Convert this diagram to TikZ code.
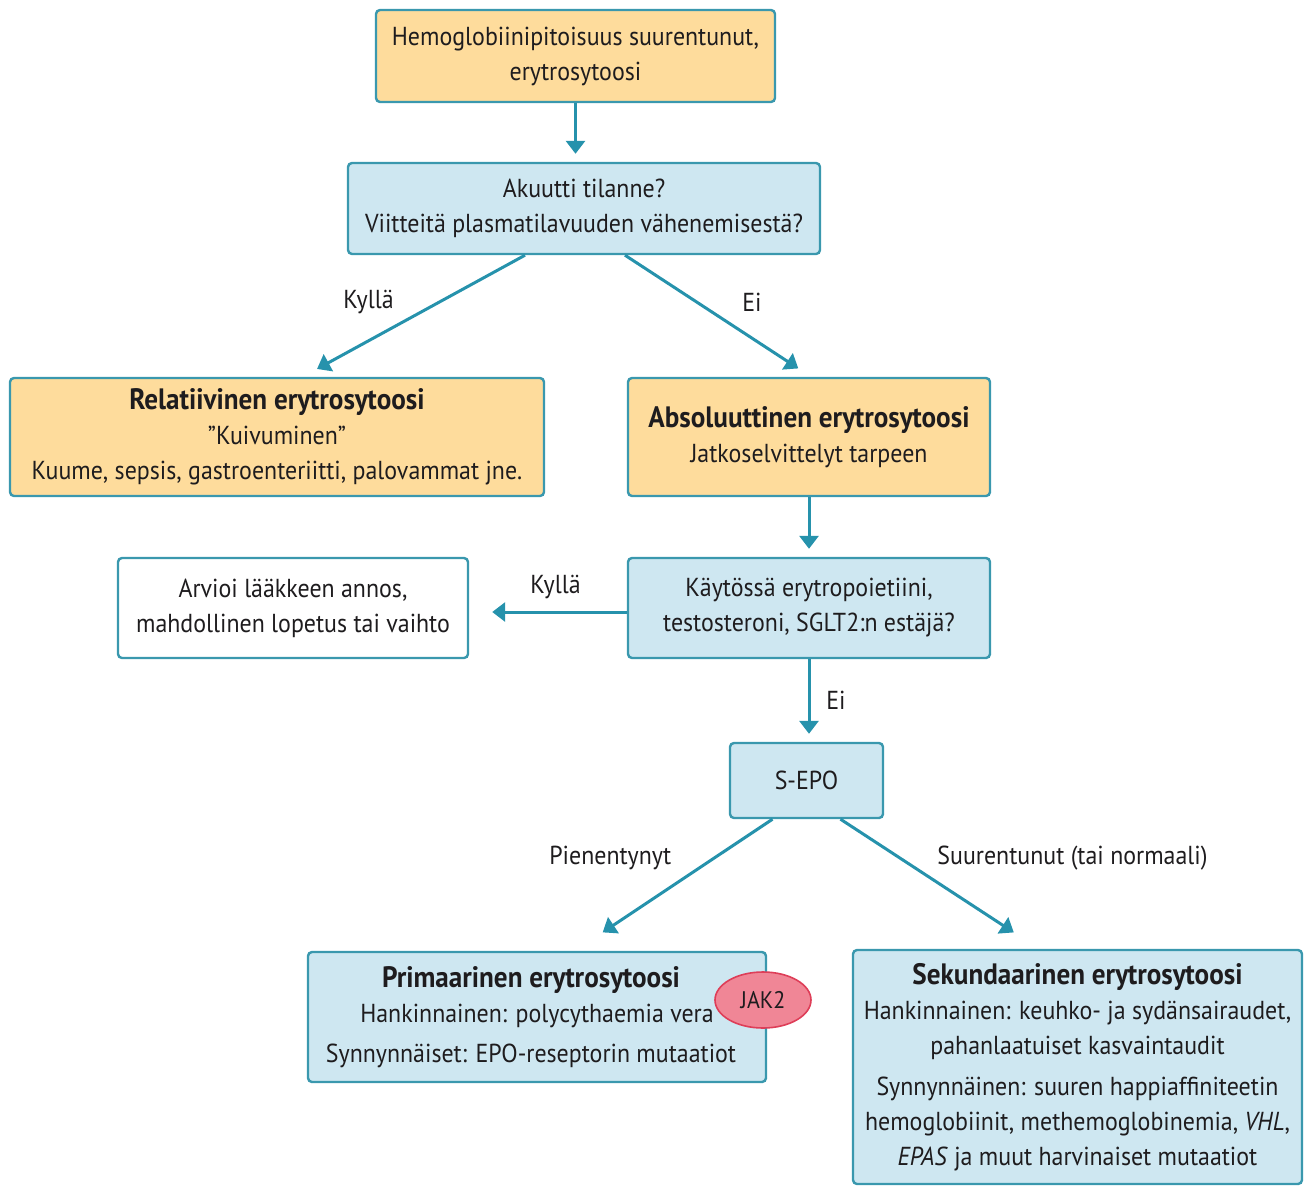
\documentclass[tikz,border=0pt]{standalone}
\usepackage{fontspec}
\setmainfont[FakeStretch=0.92]{PT Sans}
\usepackage{tikz}
\usetikzlibrary{arrows.meta,shapes.geometric}
\definecolor{tealline}{RGB}{58,152,174}
\definecolor{tealarrow}{RGB}{38,146,172}
\definecolor{orangefill}{RGB}{254,220,156}
\definecolor{bluefill}{RGB}{206,231,241}
\definecolor{textgray}{RGB}{30,28,30}
\definecolor{jakfill}{RGB}{240,134,150}
\definecolor{jakline}{RGB}{222,62,88}
\newcommand{\boxtitle}[1]{{\fontsize{29.5}{35}\selectfont\bfseries #1}}

\begin{document}
\begin{tikzpicture}[x=1pt,y=1pt,
    every node/.style={text=textgray,font=\fontsize{26}{35}\selectfont},
    box/.style={draw=tealline,line width=2.4pt,rounded corners=4pt,align=center,inner sep=0pt},
    orangebox/.style={box,fill=orangefill},
    bluebox/.style={box,fill=bluefill},
    whitebox/.style={box,fill=white},
    flow/.style={draw=tealarrow,line width=3pt,shorten >=8pt,-{Triangle[length=13pt,width=19pt]}},
    lbl/.style={inner sep=0pt}]
    \useasboundingbox (0,0) rectangle (1304,-1186);
    % boxes
    \node[orangebox,minimum width=399pt,minimum height=92pt] (hb) at (575.5,-56) {Hemoglobiinipitoisuus suurentunut,\\erytrosytoosi};
    \node[bluebox,minimum width=472pt,minimum height=91pt] (akuutti) at (584,-208.5) {Akuutti tilanne?\\Viitteitä plasmatilavuuden vähenemisestä?};
    \node[orangebox,minimum width=534pt,minimum height=118pt] (rel) at (277,-437) {\boxtitle{Relatiivinen erytrosytoosi}\\"Kuivuminen"\\Kuume, sepsis, gastroenteriitti, palovammat jne.};
    \node[orangebox,minimum width=362pt,minimum height=118pt] (abs) at (809,-437) {\boxtitle{Absoluuttinen erytrosytoosi}\\Jatkoselvittelyt tarpeen};
    \node[whitebox,minimum width=350pt,minimum height=100pt] (arvioi) at (293,-608) {Arvioi lääkkeen annos,\\mahdollinen lopetus tai vaihto};
    \node[bluebox,minimum width=362pt,minimum height=100pt] (kaytossa) at (809,-608) {Käytössä erytropoietiini,\\testosteroni, SGLT2:n estäjä?};
    \node[bluebox,minimum width=153pt,minimum height=75pt] (sepo) at (806.5,-780.5) {S-EPO};
    \node[bluebox,minimum width=458pt,minimum height=130pt] (prim) at (537,-1017) {\boxtitle{Primaarinen erytrosytoosi}\hspace*{12pt}\\Hankinnainen: polycythaemia vera\hspace*{12pt}\\[5pt]Synnynnäiset: EPO-reseptorin mutaatiot\hspace*{12pt}};
    \node[bluebox,minimum width=449pt,minimum height=234pt] (sek) at (1077.5,-1067) {\boxtitle{Sekundaarinen erytrosytoosi}\\Hankinnainen: keuhko- ja sydänsairaudet,\\pahanlaatuiset kasvaintaudit\\[6pt]Synnynnäinen: suuren happiaffiniteetin\\hemoglobiinit, methemoglobinemia, \textit{VHL},\\\textit{EPAS} ja muut harvinaiset mutaatiot};
    \node[ellipse,draw=jakline,fill=jakfill,line width=1.6pt,minimum width=96pt,minimum height=56pt,inner sep=0pt,font=\fontsize{24}{28}\selectfont] (jak) at (763,-1000) {JAK2};
    % connectors
    \draw[flow] (hb.south) -- (hb.south |- akuutti.north);
    \draw[flow] ([xshift=-59pt]akuutti.south) -- ([xshift=33pt,yshift=4pt]rel.north)
        node[lbl,midway,xshift=-49pt,yshift=12pt] {Kyllä};
    \draw[flow] ([xshift=41pt]akuutti.south) -- ([xshift=-4pt,yshift=4pt]abs.north)
        node[lbl,midway,xshift=37pt,yshift=12pt] {Ei};
    \draw[flow] (abs.south) -- (kaytossa.north);
    \draw[flow] ([yshift=-4pt]kaytossa.west) -- ([xshift=15pt,yshift=-4pt]arvioi.east)
        node[lbl,midway,yshift=25pt] {Kyllä};
    \draw[flow] ([xshift=2.5pt]sepo.north |- kaytossa.south) -- ([xshift=2.5pt]sepo.north)
        node[lbl,midway,xshift=27pt] {Ei};
    \draw[flow] ([xshift=-34pt]sepo.south) -- ([xshift=59pt,yshift=14pt]prim.north)
        node[lbl,midway,xshift=-74pt,yshift=20pt] {Pienentynyt};
    \draw[flow] ([xshift=34pt]sepo.south) -- ([xshift=-57pt,yshift=12pt]sek.north)
        node[lbl,midway,xshift=142pt,yshift=20pt] {Suurentunut (tai normaali)};
\end{tikzpicture}
\end{document}
